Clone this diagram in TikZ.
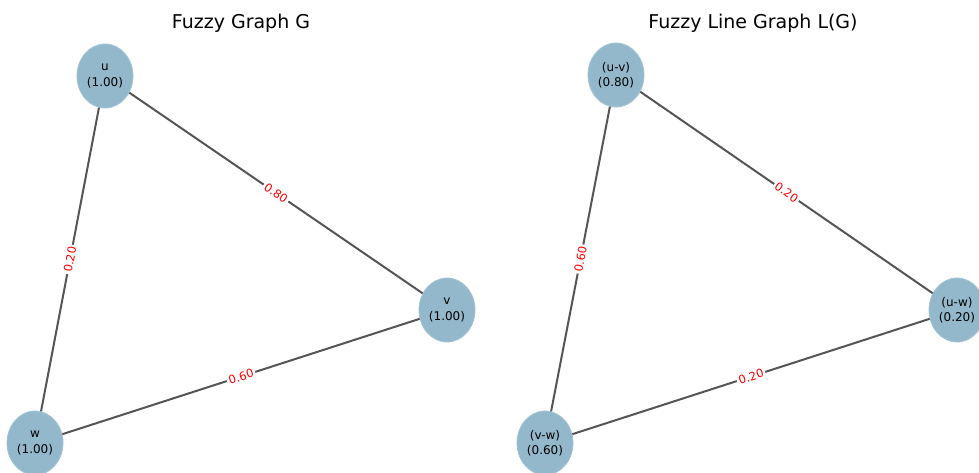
\documentclass[tikz,border=0pt]{standalone}
\usepackage{fontspec}
\setmainfont{DejaVu Sans}
\usetikzlibrary{shapes.geometric}
\definecolor{nodefill}{RGB}{148,184,203}
\definecolor{edgegray}{RGB}{85,85,85}
\begin{document}
\begin{tikzpicture}[x=1pt,y=-1pt,
  fnode/.style={ellipse, fill=nodefill, draw=nodefill!85!white, line width=0.8pt,
    minimum width=56pt, minimum height=64pt, inner sep=0pt, align=center,
    font=\fontsize{12}{15.5}\selectfont},
  fedge/.style={draw=edgegray, line width=2pt},
  wlabel/.style={sloped, fill=white, text=red, inner sep=2pt,
    font=\fontsize{11.5}{13}\selectfont},
  gtitle/.style={font=\fontsize{19}{22}\selectfont, anchor=base}]
\useasboundingbox (0,0) rectangle (979,472);
\fill[white] (0,0) rectangle (979,472);
% titles
\node[gtitle] (t1) at (241,28) {Fuzzy Graph G};
\node[gtitle] (t2) at (753,28) {Fuzzy Line Graph L(G)};
% left graph
\node[fnode] (u) at (105,76) {u\\(1.00)};
\node[fnode] (v) at (447,310) {v\\(1.00)};
\node[fnode] (w) at (35,443) {w\\(1.00)};
\draw[fedge] (u) -- node[wlabel] {0.80} (v);
\draw[fedge] (w) -- node[wlabel] {0.20} (u);
\draw[fedge] (w) -- node[wlabel] {0.60} (v);
% right graph
\node[fnode] (uv) at (616,75) {(u-v)\\(0.80)};
\node[fnode] (uw) at (957,310) {(u-w)\\(0.20)};
\node[fnode] (vw) at (545,443) {(v-w)\\(0.60)};
\draw[fedge] (uv) -- node[wlabel] {0.20} (uw);
\draw[fedge] (vw) -- node[wlabel] {0.60} (uv);
\draw[fedge] (vw) -- node[wlabel] {0.20} (uw);
\end{tikzpicture}
\end{document}
